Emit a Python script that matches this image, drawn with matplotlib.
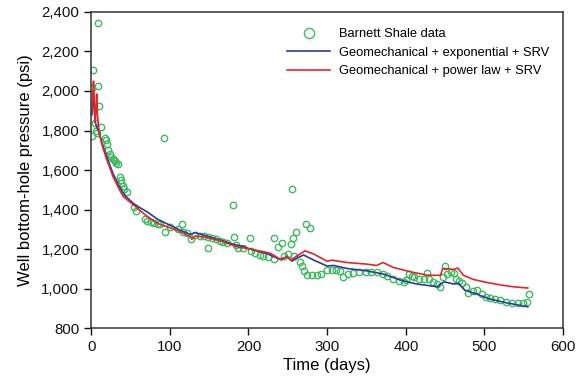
import matplotlib
matplotlib.use("Agg")
import matplotlib.pyplot as plt
from matplotlib.ticker import FuncFormatter

plt.rcParams['font.family'] = ['Liberation Sans', 'DejaVu Sans']

# Barnett Shale field data (days, psi)
data_days = [1.2, 1.5, 2.0, 4.5, 6.0, 7.0, 8.5, 9.3, 10.3, 12.5, 17.0, 18.5, 19.8, 21.8,
             23.5, 25.5, 27.2, 28.8, 30.2, 32.0, 34.5, 36.3, 37.3, 38.5, 40.3, 42.3, 45.4,
             54.7, 57.0, 68.6, 71.6, 76.0, 80.0, 84.7, 87.7, 92.0, 94.0, 100.0, 111.0,
             115.0, 117.0, 121.6, 127.0, 132.0, 138.5, 143.6, 148.0, 149.0, 154.0, 159.0,
             164.0, 168.0, 172.5, 180.5, 182.0, 184.0, 187.0, 193.6, 202.5, 203.0, 208.5,
             214.0, 219.0, 225.0, 232.0, 232.6, 238.0, 242.0, 245.0, 250.0, 254.0, 255.0,
             256.0, 258.0, 260.6, 265.7, 268.6, 270.7, 273.0, 274.5, 278.0, 281.0, 287.0,
             292.5, 299.6, 306.0, 311.4, 316.5, 320.0, 326.7, 333.4, 340.7, 349.6, 356.0,
             363.0, 370.8, 376.7, 384.0, 391.5, 398.0, 400.4, 404.6, 407.6, 411.0, 417.0,
             423.0, 426.6, 430.0, 435.0, 440.0, 443.6, 447.0, 449.6, 452.5, 457.0, 461.4,
             463.5, 467.0, 471.0, 476.0, 479.6, 485.0, 490.0, 496.6, 501.7, 507.0, 513.5,
             520.0, 527.5, 535.5, 543.0, 548.7, 553.8, 556.0]
data_psi = [1772, 2015, 2106, 1836, 1800, 1786, 2025, 2346, 1925, 1819, 1763, 1752, 1732, 1701,
            1680, 1665, 1658, 1650, 1645, 1637, 1629, 1566, 1549, 1536, 1519, 1505, 1488,
            1414, 1394, 1350, 1340, 1337, 1333, 1328, 1328, 1762, 1284, 1313, 1301,
            1327, 1286, 1279, 1250, 1271, 1268, 1264, 1207, 1259, 1254, 1249,
            1240, 1235, 1232, 1424, 1262, 1222, 1207, 1207, 1256, 1191, 1178,
            1170, 1166, 1158, 1148, 1257, 1212, 1230, 1164, 1175, 1224, 1504,
            1254, 1164, 1288, 1136, 1112, 1090, 1325, 1071, 1305, 1067, 1071,
            1073, 1094, 1095, 1092, 1087, 1061, 1075, 1080, 1082, 1082, 1082,
            1082, 1075, 1065, 1051, 1038, 1031, 1043, 1072, 1062, 1060, 1051,
            1051, 1077, 1050, 1034, 1023, 1006, 1057, 1114, 1075, 1082, 1077,
            1051, 1039, 1026, 1006, 979, 989, 992, 975, 958, 950, 947,
            942, 933, 925, 927, 925, 932, 972]

# Geomechanical + exponential + SRV
exp_days = [1, 2, 3, 4, 5, 6, 7, 8, 10, 14, 20, 28, 36, 43, 56, 71, 84, 98, 113, 126, 132,
            143, 164, 181, 194, 206, 223, 240, 249, 255, 261, 270, 283, 300, 308, 325, 350,
            372, 393, 414, 441, 444, 449, 461, 467, 475, 490, 507, 528, 555]
exp_psi = [1880, 1960, 1990, 1900, 1850, 1830, 1820, 1810, 1790, 1735, 1665, 1580, 1515,
           1470, 1423, 1389, 1352, 1325, 1296, 1274, 1283, 1271, 1246, 1224, 1212, 1195,
           1178, 1148, 1161, 1139, 1153, 1170, 1144, 1114, 1117, 1102, 1090, 1073, 1043,
           1023, 1009, 1023, 1034, 1023, 1026, 992, 972, 947, 928, 908]

# Geomechanical + power law + SRV
pow_days = [1, 2, 3, 4, 5, 6, 7, 8, 10, 14, 20, 28, 36, 41, 54, 69, 84, 100, 113, 126, 128,
            132, 147, 164, 185, 198, 220, 228, 242, 249, 254, 261, 272, 283, 300, 306, 325,
            350, 363, 371, 384, 406, 427, 444, 447, 461, 466, 473, 486, 503, 520, 537, 555]
pow_psi = [1900, 1980, 2050, 1950, 1840, 1900, 1985, 1880, 1790, 1725, 1650, 1565, 1500,
           1465, 1423, 1372, 1330, 1308, 1288, 1263, 1249, 1266, 1259, 1242, 1212, 1203,
           1186, 1178, 1144, 1164, 1144, 1164, 1191, 1175, 1138, 1144, 1132, 1124, 1117,
           1132, 1107, 1085, 1068, 1067, 1102, 1097, 1104, 1068, 1046, 1031, 1019, 1009, 1003]

fig = plt.figure(figsize=(5.77, 3.86), dpi=100)
ax = fig.add_axes([0.158, 0.150, 0.818, 0.819])

ax.plot(data_days, data_psi, linestyle='none', marker='o', markersize=4.6,
        markerfacecolor='none', markeredgecolor='#3dbb5e', markeredgewidth=1.0,
        label='Barnett Shale data')
ax.plot(exp_days, exp_psi, color='#2a3c9c', linewidth=1.2,
        label='Geomechanical + exponential + SRV')
ax.plot(pow_days, pow_psi, color='#e3262a', linewidth=1.2,
        label='Geomechanical + power law + SRV')

ax.set_xlim(0, 600)
ax.set_ylim(800, 2400)
ax.set_xticks(range(0, 601, 100))
ax.set_yticks(range(800, 2401, 200))
ax.yaxis.set_major_formatter(FuncFormatter(lambda v, p: '{:,.0f}'.format(v)))
ax.tick_params(direction='out', length=5, width=1, labelsize=10.8, colors='#111111',
               top=False, right=False)
for s in ax.spines.values():
    s.set_linewidth(1.1)
    s.set_color('#333333')

ax.set_xlabel('Time (days)', fontsize=12, labelpad=3)
ax.set_ylabel('Well bottom-hole pressure (psi)', fontsize=12, labelpad=6)

ax.legend(loc='upper right', bbox_to_anchor=(0.995, 0.985), frameon=False, fontsize=9.3,
          handlelength=3.3, handletextpad=0.7, labelspacing=0.5, markerscale=1.6,
          numpoints=1)

fig.savefig('out.png', dpi=100)
